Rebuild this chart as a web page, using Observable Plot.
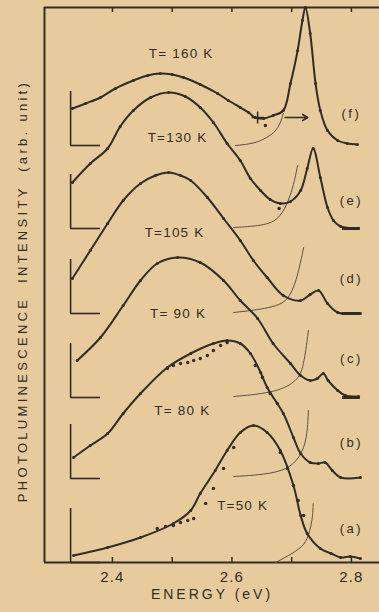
<!DOCTYPE html>
<html><head><meta charset="utf-8">
<script src="https://cdn.jsdelivr.net/npm/d3@7"></script>
<script src="https://cdn.jsdelivr.net/npm/@observablehq/plot@0.6"></script>
<style>
html,body{margin:0;padding:0;background:#e8cb9d;}
#chart svg{display:block}
</style></head><body><div id="chart"></div>
<script>
// ---- data ----
const panels = ["(a)", "(b)", "(c)", "(d)", "(e)", "(f)"];
const temps = ["T=50 K", "T= 80 K", "T= 90 K", "T=105 K", "T=130 K", "T= 160 K"];
const offsets = [0, 84, 165, 249, 334, 417]; // vertical shift of each spectrum (arb. unit)

const energyF = [2.333,2.355,2.380,2.405,2.435,2.459,2.480,2.500,2.519,2.547,2.576,2.594,2.614,2.628,2.639,2.653,2.669,2.686,2.698,2.710,2.718,2.723,2.731,2.740,2.748,2.760,2.777,2.793,2.810];
const intensityF = [37,42,48,57,65,70,72,71,68,61,52,45,38,33,28,27,30,35,62,95,125,138,112,62,35,15,5,2,1];
const energyE = [2.333,2.363,2.392,2.413,2.435,2.464,2.494,2.522,2.547,2.569,2.592,2.614,2.631,2.648,2.664,2.681,2.698,2.715,2.726,2.736,2.748,2.760,2.770,2.782,2.810];
const intensityE = [46,65,80,102,118,131,136,132,121,106,85,68,50,38,29,25,27,38,60,80,51,21,8,2,0];
const energyD = [2.333,2.363,2.392,2.418,2.447,2.472,2.494,2.514,2.531,2.559,2.586,2.614,2.636,2.659,2.686,2.715,2.731,2.745,2.760,2.777,2.815];
const intensityD = [35,63,90,113,130,138,141,138,133,116,95,73,53,36,18,13,19,23,10,1,0];
const energyC = [2.341,2.380,2.418,2.447,2.475,2.509,2.547,2.586,2.614,2.643,2.669,2.698,2.715,2.731,2.743,2.753,2.761,2.777,2.790,2.812];
const intensityC = [37,60,92,117,134,140,135,117,97,79,54,34,22,17,19,24,17,7,2,1];
const energyB = [2.335,2.363,2.392,2.418,2.447,2.492,2.531,2.569,2.592,2.614,2.631,2.648,2.659,2.686,2.703,2.715,2.731,2.745,2.756,2.768,2.782,2.815];
const intensityB = [21,33,45,65,85,111,125,135,138,135,125,106,91,65,41,25,16,15,16,8,1,1];
const energyA = [2.335,2.392,2.447,2.502,2.531,2.547,2.572,2.592,2.614,2.636,2.659,2.681,2.703,2.715,2.726,2.748,2.766,2.782,2.798,2.815];
const intensityA = [7,15,25,39,52,69,92,112,130,137,130,112,77,47,29,14,9,5,6,4];

// thin fitted exciton-line tails
const fitEnergyF = [2.606,2.639,2.659,2.673,2.681,2.686];
const fitIntensityF = [0,2,8,14,22,32];
const fitEnergyE = [2.603,2.659,2.681,2.695,2.703,2.710];
const fitIntensityE = [1,3,11,28,43,63];
const fitEnergyD = [2.603,2.676,2.698,2.711,2.720];
const fitIntensityD = [1,6,16,40,66];
const fitEnergyC = [2.603,2.676,2.710,2.720,2.728];
const fitIntensityC = [1,5,17,30,67];
const fitEnergyB = [2.603,2.686,2.715,2.726,2.728];
const fitIntensityB = [2,5,21,41,68];
const fitEnergyA = [2.673,2.686,2.715,2.726,2.735,2.736];
const fitIntensityA = [0,4,14,22,42,59];

// measured points that stand off the curves
const ptEnergyA = [2.475,2.489,2.502,2.514,2.526,2.536,2.556,2.569,2.586,2.603,2.681,2.693,2.703,2.711,2.720];
const ptIntensityA = [34,36,37,40,42,44,59,74,94,115,110,94,77,62,47];
const ptEnergyB = [2.492,2.502,2.514,2.526,2.536,2.547,2.559,2.569,2.581,2.592,2.639,2.651,2.664,2.676];
const ptIntensityB = [110,113,115,116,118,120,123,128,133,136,113,101,85,75];
const ptEnergyE = [2.679];
const ptIntensityE = [20];
const ptEnergyF = [2.656];
const ptIntensityF = [20];
const crossEnergyF = [2.643];
const crossIntensityF = [28];

const xTicks = [2.4, 2.5, 2.6, 2.7, 2.8];
const xTickLabels = [2.4, 2.6, 2.8];
const xLabel = "ENERGY (eV)";
const yLabel = "PHOTOLUMINESCENCE  INTENSITY  (arb. unit)";

// label anchors (energy, intensity)
const tempLabelEnergy = [2.618, 2.517, 2.510, 2.504, 2.509, 2.515];
const tempLabelLevel = [57, 152, 249, 330, 425, 509];
const panelLabelEnergy = [2.800, 2.800, 2.800, 2.800, 2.800, 2.800];
const panelLabelLevel = [34, 120, 204, 284, 362, 449];

const barEnergy = 2.330, barHeight = 54, baseEnd = 2.380;
const arrowF = {x1: 2.689, x2: 2.727, level: 28};

// ---- build tables ----
const curveE = [energyA, energyB, energyC, energyD, energyE, energyF];
const curveI = [intensityA, intensityB, intensityC, intensityD, intensityE, intensityF];
const fitE = [fitEnergyA, fitEnergyB, fitEnergyC, fitEnergyD, fitEnergyE, fitEnergyF];
const fitI = [fitIntensityA, fitIntensityB, fitIntensityC, fitIntensityD, fitIntensityE, fitIntensityF];
function rows(Es, Is) {
  const out = [];
  Es.forEach((E, k) => E.forEach((e, i) => out.push({panel: panels[k], x: e, y: offsets[k] + Is[k][i]})));
  return out;
}
const curves = rows(curveE, curveI);
const fits = rows(fitE, fitI);
const pts = [
  ...ptEnergyA.map((e, i) => ({x: e, y: offsets[0] + ptIntensityA[i]})),
  ...ptEnergyB.map((e, i) => ({x: e, y: offsets[1] + ptIntensityB[i]})),
  ...ptEnergyE.map((e, i) => ({x: e, y: offsets[4] + ptIntensityE[i]})),
  ...ptEnergyF.map((e, i) => ({x: e, y: offsets[5] + ptIntensityF[i]}))
];
const crosses = crossEnergyF.map((e, i) => ({x: e, y: offsets[5] + crossIntensityF[i]}));
const bases = offsets.map((o, k) => ({k, o}));
const tempLabels = temps.map((t, k) => ({t, x: tempLabelEnergy[k], y: tempLabelLevel[k]}));
const panelLabels = panels.map((p, k) => ({p, x: panelLabelEnergy[k], y: panelLabelLevel[k]}));
const stubs = [2, 3, 4].map(k => ({y: offsets[k]}));

const ink = "#332b24";
const xMin = 2.2863, xMax = 2.847, yTop = 555;

const chart = Plot.plot({
  width: 379, height: 612,
  marginLeft: 44, marginRight: 0, marginTop: 7, marginBottom: 50,
  x: {domain: [xMin, xMax]},
  y: {domain: [0, yTop], axis: null},
  style: {background: "transparent", color: ink, fontFamily: "'Liberation Sans', Arial, sans-serif"},
  marks: [
    // frame
    Plot.ruleX([xMin], {stroke: ink, strokeWidth: 2}),
    Plot.ruleY([0, yTop], {stroke: ink, strokeWidth: 2}),
    Plot.ruleX(xTicks, {y1: 0, y2: 5, stroke: ink, strokeWidth: 1.5}),
    Plot.ruleX(xTicks, {y1: yTop - 5, y2: yTop, stroke: ink, strokeWidth: 1.5}),
    Plot.axisX({ticks: xTickLabels, tickSize: 0, tickPadding: 9, fontSize: 15, tickFormat: d3.format(".1f"), label: null, fill: ink}),
    Plot.text([xLabel], {frameAnchor: "bottom", dy: 36, fontSize: 14, fill: ink}),
    Plot.text([yLabel], {frameAnchor: "left", textAnchor: "middle", rotate: -90, dx: -22, dy: 6, fontSize: 13, fill: ink}),
    // baselines
    Plot.ruleX(bases, {x: () => barEnergy, y1: d => d.o, y2: d => d.o + barHeight, stroke: ink, strokeWidth: 1.6}),
    Plot.ruleY(bases, {y: d => d.o, x1: () => barEnergy, x2: () => baseEnd, stroke: ink, strokeWidth: 1.6}),
    Plot.ruleY(stubs, {y: "y", x1: () => 2.785, x2: () => 2.815, stroke: ink, strokeWidth: 3}),
    // fitted thin lines
    Plot.line(fits, {x: "x", y: "y", z: "panel", stroke: "#5b4f44", strokeWidth: 1, curve: "basis"}),
    // spectra
    Plot.line(curves, {x: "x", y: "y", z: "panel", stroke: ink, strokeWidth: 2, curve: "catmull-rom"}),
    Plot.dot(curves, {x: "x", y: "y", r: 1.5, fill: ink}),
    Plot.dot(pts, {x: "x", y: "y", r: 1.7, fill: ink}),
    Plot.dot(crosses, {x: "x", y: "y", r: 4, symbol: "plus", stroke: ink, strokeWidth: 1.5}),
    Plot.arrow([arrowF], {x1: "x1", x2: "x2", y1: d => offsets[5] + d.level, y2: d => offsets[5] + d.level, stroke: ink, strokeWidth: 1.5, headLength: 6}),
    // labels
    Plot.text(tempLabels, {x: "x", y: "y", text: "t", fontSize: 13.5, fill: ink}),
    Plot.text(panelLabels, {x: "x", y: "y", text: "p", fontSize: 13, fill: ink})
  ]
});
document.getElementById("chart").append(chart);
const svg = d3.select(chart);
svg.selectAll("text").style("letter-spacing", "1.2px");
svg.selectAll("text").filter(function(){ return this.textContent === xLabel; }).style("letter-spacing", "3px");
svg.selectAll("text").filter(function(){ return this.textContent === yLabel; }).style("letter-spacing", "3.3px");
svg.selectAll("text").filter(function(){ return panels.includes(this.textContent); }).style("letter-spacing", "2.5px");
</script></body></html>
